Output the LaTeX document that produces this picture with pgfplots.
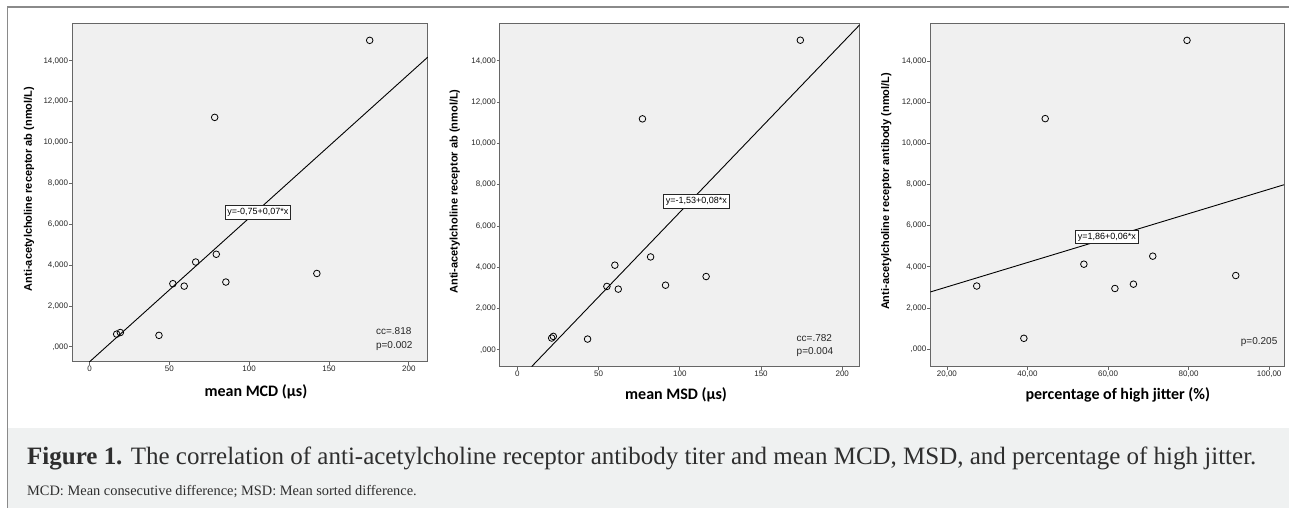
\documentclass[border=0pt]{standalone}
\usepackage{pgfplots}
\pgfplotsset{compat=1.18}
\usepackage{fontspec}
\setmainfont{Liberation Sans}
\newfontfamily\labfont{Carlito}
\newfontfamily\capfont{Liberation Serif}

\definecolor{plotbg}{HTML}{F0F0F0}
\definecolor{framec}{HTML}{666666}
\definecolor{capbg}{HTML}{EFF1F1}
\definecolor{outline}{HTML}{8A8A8A}
\definecolor{captext}{HTML}{2E2E2E}

% values (y in thousands of nmol/L units as printed)
\pgfplotstableread{
x y
175.5 15.00
78.4 11.23
79.4 4.53
66.5 4.15
52.2 3.09
59.3 2.97
85.4 3.17
142.4 3.59
17.0 0.62
19.3 0.70
43.5 0.56
}\mcd
\pgfplotstableread{
x y
174.2 15.00
77.0 11.19
82.0 4.50
60.0 4.10
55.1 3.07
62.1 2.94
91.2 3.13
116.2 3.55
21.1 0.57
22.1 0.65
43.2 0.52
}\msd
\pgfplotstableread{
x y
79.6 15.00
44.4 11.20
71.1 4.52
54.0 4.13
27.4 3.07
61.7 2.95
66.3 3.16
91.7 3.58
39.1 0.53
}\jitter

\tikzset{
  eqbox/.style={draw=black!85, fill=white, line width=0.7pt, inner xsep=2.2pt, inner ysep=2.6pt, font=\fontsize{9}{10}\selectfont},
  stat/.style={anchor=west, align=left, font=\fontsize{10}{13.7}\selectfont, text=black!85},
}
\pgfplotsset{
  spss/.style={
    scale only axis,
    axis background/.style={fill=plotbg},
    axis line style={draw=framec, line width=0.9pt},
    tick align=outside,
    xtick pos=bottom, ytick pos=left,
    major tick length=3pt,
    tick style={draw=framec, line width=0.8pt},
    ticklabel style={font=\fontsize{8}{9}\selectfont, text=black!85, inner sep=0.8pt},
    ytick={0,2,4,6,8,10,12,14},
    yticklabels={{,000},{2,000},{4,000},{6,000},{8,000},{10,000},{12,000},{14,000}},
    xlabel style={font=\labfont\bfseries\fontsize{16}{18}\selectfont, anchor=center},
    ylabel style={font=\bfseries\fontsize{11}{12}\selectfont, anchor=center},
    clip=true,
  },
  pts/.style={only marks, mark=o, mark size=3.3pt, mark options={draw=black, line width=0.8pt}},
  fit/.style={black, line width=0.9pt, no marks},
}

\begin{document}
\begin{tikzpicture}[x=1pt,y=1pt]
\path (0,0) rectangle (1290,508);
\fill[capbg] (8.5,0) rectangle (1290,80);
\draw[outline, line width=1.2pt] (7.5,0) -- (7.5,501) -- (1290,501);

% panel 1: mean MCD
\begin{axis}[spss, at={(72pt,485pt)}, anchor=north west, width=356pt, height=339pt,
  xmin=-11.0, xmax=211.9, ymin=-0.735, ymax=15.85,
  xtick={0,50,100,150,200}, xticklabels={0,50,100,150,200},
  xlabel={mean MCD (µs)}, xlabel style={at={(axis description cs:0.517,-0.088)}},
  ylabel={Anti-acetylcholine receptor ab (nmol/L)}, ylabel style={at={(axis description cs:-0.121,0.51)}}]
\addplot[pts] table {\mcd};
\addplot[fit] coordinates {(0,-0.735) (211.9,14.18)};
\node[eqbox] at (axis cs:105.4,6.58) {y=-0,75+0,07*x};
\node[stat] at (axis cs:177.3,0.37) {cc=.818\\p=0.002};
\end{axis}

% panel 2: mean MSD
\begin{axis}[spss, at={(500pt,484.7pt)}, anchor=north west, width=360pt, height=343.4pt,
  xmin=-10.86, xmax=210.7, ymin=-0.81, ymax=15.82,
  xtick={0,50,100,150,200}, xticklabels={0,50,100,150,200},
  xlabel={mean MSD (µs)}, xlabel style={at={(axis description cs:0.49,-0.082)}},
  ylabel={Anti-acetylcholine receptor ab (nmol/L)}, ylabel style={at={(axis description cs:-0.125,0.51)}}]
\addplot[pts] table {\msd};
\addplot[fit] coordinates {(8.8,-0.81) (210.7,15.74)};
\node[eqbox] at (axis cs:110.2,7.2) {y=-1,53+0,08*x};
\node[stat] at (axis cs:169.8,0.2) {cc=.782\\p=0.004};
\end{axis}

% panel 3: percentage of high jitter
\begin{axis}[spss, at={(930.7pt,484.7pt)}, anchor=north west, width=354pt, height=343.4pt,
  xmin=15.87, xmax=103.7, ymin=-0.84, ymax=15.83,
  xtick={20,40,60,80,100}, xticklabels={{20,00},{40,00},{60,00},{80,00},{100,00}},
  xlabel={percentage of high jitter (\%)}, xlabel style={at={(axis description cs:0.53,-0.082)}},
  ylabel={Anti-acetylcholine receptor antibody (nmol/L)}, ylabel style={at={(axis description cs:-0.124,0.51)}}]
\addplot[pts] table {\jitter};
\addplot[fit] coordinates {(15.87,2.78) (103.7,7.99)};
\node[eqbox] at (axis cs:59.7,5.45) {y=1,86+0,06*x};
\node[stat] at (axis cs:92.1,0.34) {p=0.205};
\end{axis}

% caption
\node[anchor=base west, inner sep=0pt, text=captext, font=\capfont\fontsize{25}{28}\selectfont]
  at (27,43) {\textbf{Figure 1.} The correlation of anti-acetylcholine receptor antibody titer and mean MCD, MSD, and percentage of high jitter.};
\node[anchor=base west, inner sep=0pt, text=captext, font=\capfont\fontsize{14.4}{18}\selectfont]
  at (27,12) {MCD: Mean consecutive difference; MSD: Mean sorted difference.};
\end{tikzpicture}
\end{document}
